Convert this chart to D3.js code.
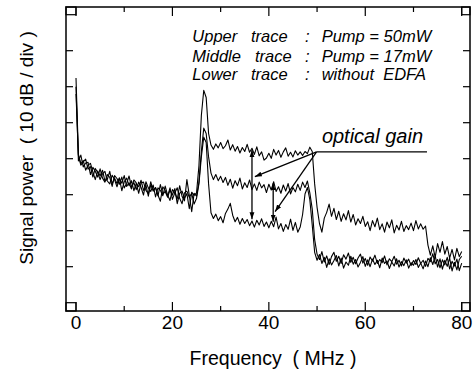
<!DOCTYPE html>
<html>
<head>
<meta charset="utf-8">
<script src="https://cdn.jsdelivr.net/npm/d3@7"></script>
<style>
  html, body { margin: 0; padding: 0; background: #fff; }
  svg { display: block; font-family: "Liberation Sans", Arial, Helvetica, sans-serif; }
</style>
</head>
<body>
<div id="chart"></div>
<script>
// spectrum analyser sweep, 0.5 MHz per point
const freqMHz = [0,0.5,1,1.5,2,2.5,3,3.5,4,4.5,5,5.5,6,6.5,7,7.5,8,8.5,9,9.5,10,10.5,11,11.5,12,12.5,13,13.5,14,14.5,15,15.5,16,16.5,17,17.5,18,18.5,19,19.5,20,20.5,21,21.5,22,22.5,23,23.5,24,24.5,25,25.5,26,26.5,27,27.5,28,28.5,29,29.5,30,30.5,31,31.5,32,32.5,33,33.5,34,34.5,35,35.5,36,36.5,37,37.5,38,38.5,39,39.5,40,40.5,41,41.5,42,42.5,43,43.5,44,44.5,45,45.5,46,46.5,47,47.5,48,48.5,49,49.5,50,50.5,51,51.5,52,52.5,53,53.5,54,54.5,55,55.5,56,56.5,57,57.5,58,58.5,59,59.5,60,60.5,61,61.5,62,62.5,63,63.5,64,64.5,65,65.5,66,66.5,67,67.5,68,68.5,69,69.5,70,70.5,71,71.5,72,72.5,73,73.5,74,74.5,75,75.5,76,76.5,77,77.5,78,78.5,79,79.5,80];

// power in dB above bottom graticule line (10 dB / div)
const upperTrace = [
  62.4, 41.2, 38.6, 39.5, 36.8, 38.2, 38.7, 36.3, 34.2, 36.6,
  35.2, 36.8, 33.8, 34.3, 36.5, 33.0, 34.6, 33.1, 34.7, 31.1,
  33.6, 34.6, 32.5, 33.9, 31.1, 33.1, 32.2, 34.0, 31.2, 32.7,
  29.6, 32.7, 31.3, 31.9, 29.7, 32.8, 30.1, 30.9, 29.3, 31.3,
  29.9, 31.7, 27.5, 30.4, 31.0, 29.0, 30.3, 26.1, 30.7, 29.8,
  30.5, 38.0, 52.0, 59.0, 57.0, 47.0, 43.8, 42.6, 44.1, 43.0,
  44.5, 42.8, 43.6, 45.2, 42.4, 43.9, 42.1, 43.4, 41.6, 43.1,
  42.0, 44.0, 41.8, 42.9, 41.2, 43.3, 40.8, 41.9, 39.6, 40.2,
  41.5, 40.1, 42.6, 41.0, 42.3, 40.4, 41.9, 43.0, 40.7, 41.8,
  40.5, 42.2, 41.0, 41.9, 40.9, 42.0, 41.4, 43.2, 42.0, 33.0,
  26.5, 22.0, 19.6, 23.5, 25.1, 27.4, 24.0, 26.2, 23.1, 25.4,
  22.6, 24.7, 23.0, 25.6, 22.4, 24.5, 21.6, 23.3, 22.0, 24.0,
  21.2, 22.5, 20.0, 22.8, 21.1, 23.5, 20.3, 21.9, 19.6, 22.4,
  20.8, 23.0, 19.4, 21.5, 20.2, 22.6, 19.8, 21.4, 20.3, 22.1,
  20.0, 22.8, 20.5, 21.9, 20.4, 21.3, 16.0, 13.2, 15.8, 12.6,
  16.4, 14.0, 17.0, 13.5, 15.6, 12.4, 14.8, 11.9, 15.1, 12.8, 14.2
];
const middleTrace = [
  60.0, 39.4, 41.0, 37.7, 38.8, 39.0, 35.6, 37.6, 36.5, 34.9,
  37.2, 34.6, 33.5, 35.6, 34.8, 32.3, 35.3, 34.5, 32.9, 34.9,
  31.9, 33.1, 35.2, 32.1, 33.4, 31.4, 33.5, 32.0, 29.9, 33.6,
  31.9, 30.9, 32.7, 29.4, 31.9, 31.2, 29.7, 32.4, 29.9, 28.4,
  31.4, 30.6, 28.8, 32.5, 29.5, 28.3, 34.2, 29.8, 25.3, 30.4,
  29.6, 33.5, 42.0, 48.5, 47.0, 40.5, 36.0, 34.2, 35.6, 33.9,
  35.1, 33.4, 34.8, 32.6, 34.3, 31.8, 33.9, 32.5, 34.6, 31.6,
  33.3, 32.0, 34.1, 31.4, 33.0, 31.2, 33.5, 31.9, 32.8, 30.6,
  32.9, 31.3, 33.6, 30.9, 32.2, 30.4, 32.7, 31.0, 33.1, 30.2,
  32.0, 30.8, 32.9, 31.2, 33.5, 32.0, 33.8, 30.5, 26.0, 17.5,
  13.5, 12.0, 14.2, 11.3, 13.0, 10.6, 12.8, 14.0, 11.5, 12.9,
  10.9, 13.3, 12.1, 13.8, 11.2, 12.6, 10.8, 12.4, 13.5, 11.0,
  12.3, 10.4, 12.7, 11.6, 13.2, 10.9, 12.0, 11.1, 13.0, 10.5,
  12.2, 11.4, 12.9, 10.7, 11.8, 10.2, 12.4, 11.0, 12.1, 10.3,
  11.7, 10.6, 12.5, 10.9, 11.8, 10.1, 12.3, 11.4, 13.6, 10.8,
  12.0, 9.7, 11.9, 10.5, 12.6, 9.4, 11.5, 10.2, 12.1, 8.9, 11.0
];
const lowerTrace = [
  58.0, 40.9, 38.2, 39.1, 39.9, 37.1, 37.8, 34.9, 37.3, 36.2,
  34.2, 35.8, 36.5, 33.8, 33.0, 35.4, 34.2, 32.2, 34.5, 33.2,
  35.3, 32.3, 33.3, 31.6, 34.1, 33.3, 30.4, 33.3, 33.5, 31.2,
  30.3, 33.6, 31.0, 32.0, 29.9, 28.2, 32.2, 31.2, 29.6, 31.9,
  28.7, 30.5, 31.9, 29.0, 27.5, 30.5, 31.0, 29.3, 30.4, 27.4,
  29.0, 33.0, 40.5, 46.0, 44.5, 33.0, 25.0, 23.4, 24.6, 22.8,
  23.9, 22.2, 24.8, 26.0, 27.6, 24.3, 22.5, 23.7, 21.8, 23.4,
  22.0, 23.1, 21.4, 22.7, 21.0, 22.9, 21.6, 23.3, 21.2, 22.4,
  20.8, 22.6, 21.1, 23.8, 20.5, 22.0, 19.8, 21.7, 20.4, 23.2,
  20.1, 22.3, 19.6, 21.0, 24.5, 30.2, 32.0, 28.6, 21.5, 14.0,
  11.8, 13.4, 10.9, 12.6, 9.8, 12.2, 10.5, 11.7, 13.1, 10.2,
  12.4, 9.6, 11.3, 10.4, 12.9, 10.7, 12.0, 9.9, 11.2, 12.8,
  10.1, 11.9, 10.0, 12.1, 10.6, 11.8, 9.7, 12.4, 10.9, 11.6,
  9.5, 11.3, 10.2, 12.2, 9.9, 11.4, 10.3, 11.9, 9.6, 11.1,
  10.4, 12.0, 9.8, 11.0, 9.4, 11.6, 10.0, 12.5, 10.6, 13.0,
  9.9, 12.2, 9.3, 11.8, 10.1, 12.4, 8.8, 11.2, 9.1, 12.0, 12.9
];

const xMajorTicks = [0, 20, 40, 60, 80];
const xMinorTicks = [10, 30, 50, 70];
const yTicks = [10, 20, 30, 40, 50, 60, 70];

const legendLines = [
  ["Upper", "trace", ":", "Pump = 50mW"],
  ["Middle", "trace", ":", "Pump = 17mW"],
  ["Lower", "trace", ":", "without  EDFA"]
];
const gainLabel = "optical gain";
// double arrows: [freq, top dB, bottom dB]
const gainMarks = [[36.5, 42.4, 23.2], [40.9, 33.2, 22.5]];
// pointer lines from the label: [freq, dB] targets
const gainPointers = [[37.1, 35.0], [41.3, 25.3]];

const width = 474, height = 375;

const x = d3.scaleLinear().domain([0, 80]).range([76, 461.7]);
const y = d3.scaleLinear().domain([0, 80]).range([302.7, 14.7]);

// frame sticks out a little past the data range
const fL = x(0) - 10, fR = x(80) + 8.3, fT = y(80) - 7.7, fB = y(0) + 8.3;

const svg = d3.select("#chart").append("svg")
  .attr("width", width)
  .attr("height", height);

const defs = svg.append("defs");
defs.append("marker")
  .attr("id", "head")
  .attr("viewBox", "0 0 10 10")
  .attr("refX", 10).attr("refY", 5)
  .attr("markerWidth", 7).attr("markerHeight", 7)
  .attr("markerUnits", "userSpaceOnUse")
  .attr("orient", "auto-start-reverse")
  .append("path")
  .attr("d", "M0,1.5 L10,5 L0,8.5 Z")
  .attr("fill", "#000");

// frame
svg.append("rect")
  .attr("x", fL).attr("y", fT)
  .attr("width", fR - fL).attr("height", fB - fT)
  .attr("fill", "none").attr("stroke", "#000").attr("stroke-width", 1.5);

// little corner boxes
const corners = [[fL, fT, x(0), y(80)], [x(80), fT, fR, y(80)], [fL, y(0), x(0), fB], [x(80), y(0), fR, fB]];
svg.selectAll("rect.corner")
  .data(corners)
  .join("rect")
  .attr("class", "corner")
  .attr("x", d => d[0]).attr("y", d => d[1])
  .attr("width", d => d[2] - d[0]).attr("height", d => d[3] - d[1])
  .attr("fill", "none").attr("stroke", "#000").attr("stroke-width", 1.2);

// x ticks, pointing inward on top and bottom
const tickG = svg.append("g").attr("stroke", "#000").attr("stroke-width", 1.2);
[[xMajorTicks, 9], [xMinorTicks, 5]].forEach(([vals, len]) => {
  vals.forEach(v => {
    tickG.append("line").attr("x1", x(v)).attr("x2", x(v)).attr("y1", fB).attr("y2", fB - len);
    tickG.append("line").attr("x1", x(v)).attr("x2", x(v)).attr("y1", fT).attr("y2", fT + len);
  });
});
yTicks.forEach(v => {
  tickG.append("line").attr("x1", fL).attr("x2", fL + 7).attr("y1", y(v)).attr("y2", y(v));
  tickG.append("line").attr("x1", fR).attr("x2", fR - 7).attr("y1", y(v)).attr("y2", y(v));
});

// tick labels
svg.append("g")
  .selectAll("text")
  .data(xMajorTicks)
  .join("text")
  .attr("x", d => x(d))
  .attr("y", 328.5)
  .attr("text-anchor", "middle")
  .attr("font-size", 19)
  .text(d => d);

// axis titles
svg.append("text")
  .attr("x", 273).attr("y", 365)
  .attr("text-anchor", "middle")
  .attr("font-size", 19.5)
  .attr("xml:space", "preserve")
  .style("white-space", "pre")
  .text("Frequency  ( MHz )");

svg.append("text")
  .attr("transform", "translate(33,148) rotate(-90)")
  .attr("text-anchor", "middle")
  .attr("font-size", 19)
  .style("white-space", "pre")
  .text("Signal power  ( 10 dB / div )");

// traces
const line = d3.line()
  .x((d, i) => x(freqMHz[i]))
  .y(d => y(d));

svg.append("g")
  .selectAll("path")
  .data([lowerTrace, middleTrace, upperTrace])
  .join("path")
  .attr("d", d => line(d))
  .attr("fill", "none")
  .attr("stroke", "#000")
  .attr("stroke-width", 1.1)
  .attr("stroke-linejoin", "round");

// legend text
const colX = [[192.3, 251, 305, 321.7], [192.3, 255, 305, 321.7], [192.3, 251, 305, 321.7]];
const legendY = [42.3, 61.5, 80];
const leg = svg.append("g")
  .attr("font-size", 16.5)
  .attr("font-style", "italic");
legendLines.forEach((words, r) => {
  words.forEach((w, c) => {
    leg.append("text")
      .attr("x", colX[r][c])
      .attr("y", legendY[r])
      .style("white-space", "pre")
      .text(w);
  });
});

// optical gain annotation
const ann = svg.append("g").attr("stroke", "#000").attr("stroke-width", 1.3).attr("fill", "none");
const labelF = 49.9, labelDb = 41.9;
ann.append("line")
  .attr("x1", x(labelF)).attr("x2", x(72.8))
  .attr("y1", y(labelDb)).attr("y2", y(labelDb));
gainPointers.forEach(p => {
  ann.append("line")
    .attr("x1", x(labelF)).attr("y1", y(labelDb))
    .attr("x2", x(p[0])).attr("y2", y(p[1]))
    .attr("marker-end", "url(#head)");
});
gainMarks.forEach(m => {
  ann.append("line")
    .attr("x1", x(m[0])).attr("x2", x(m[0]))
    .attr("y1", y(m[1])).attr("y2", y(m[2]))
    .attr("marker-start", "url(#head)")
    .attr("marker-end", "url(#head)");
});

svg.append("text")
  .attr("x", x(51.0)).attr("y", 143.3)
  .attr("font-size", 20)
  .attr("font-style", "italic")
  .text(gainLabel);
</script>
</body>
</html>
